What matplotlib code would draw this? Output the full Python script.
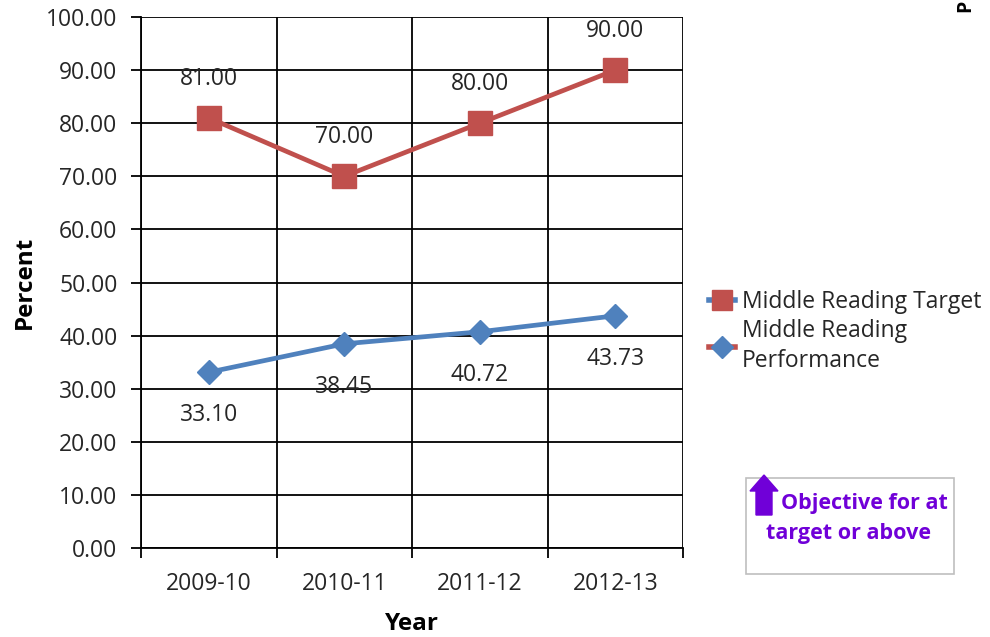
import matplotlib

matplotlib.use("Agg")
import matplotlib.pyplot as plt  # noqa: E402
from matplotlib.lines import Line2D  # noqa: E402
from matplotlib.patches import Polygon, Rectangle  # noqa: E402

YEARS = ["2009-10", "2010-11", "2011-12", "2012-13"]
TARGET = [81.00, 70.00, 80.00, 90.00]
PERFORMANCE = [33.10, 38.45, 40.72, 43.73]
Y_TICKS = [0, 10, 20, 30, 40, 50, 60, 70, 80, 90, 100]

RED = "#C0504D"
BLUE = "#4F81BD"
PURPLE = "#7000D8"
TXT = "#262626"
FS = 16.5

plt.rcParams["font.family"] = ["Open Sans", "DejaVu Sans"]

W, H = 990, 637
fig = plt.figure(figsize=(W / 100, H / 100), dpi=100)
ax = fig.add_axes([141 / W, 1 - 548 / H, (683 - 141) / W, (548 - 17) / H])

x = list(range(len(YEARS)))
ax.plot(x, TARGET, color=RED, lw=3.4, marker="s", ms=17, mfc=RED, mec=RED, zorder=4)
ax.plot(x, PERFORMANCE, color=BLUE, lw=3.4, marker="D", ms=12.5, mfc=BLUE, mec=BLUE, zorder=4)

for xi, v in zip(x, TARGET):
    ax.annotate(f"{v:.2f}", (xi, v), xytext=(0, 28), textcoords="offset points",
                ha="center", va="center", fontsize=FS, color=TXT)
for xi, v in zip(x, PERFORMANCE):
    ax.annotate(f"{v:.2f}", (xi, v), xytext=(0, -31), textcoords="offset points",
                ha="center", va="center", fontsize=FS, color=TXT)

ax.set_xlim(-0.5, len(YEARS) - 0.5)
ax.set_ylim(0, 100)
ax.set_yticks(Y_TICKS)
ax.set_yticklabels([f"{t:.2f}" for t in Y_TICKS], fontsize=FS, color=TXT)
ax.set_xticks(x)
ax.set_xticklabels(YEARS, fontsize=FS, color=TXT)
ax.set_xticks([i - 0.5 for i in range(len(YEARS) + 1)], minor=True)
ax.tick_params(axis="x", which="major", length=0, pad=17)
ax.tick_params(axis="x", which="minor", length=7, width=1.3, direction="out", color="black")
ax.tick_params(axis="y", length=7, width=1.3, direction="out", pad=10, color="black")

ax.grid(True, axis="y", which="major", color="black", lw=1.3)
ax.grid(True, axis="x", which="minor", color="black", lw=1.3)
ax.set_axisbelow(True)
for side in ("top", "right"):
    ax.spines[side].set_visible(False)
for side in ("left", "bottom"):
    ax.spines[side].set_linewidth(1.3)
    ax.spines[side].set_color("black")

# axis titles
fig.text(25 / W, 1 - 282 / H, "Percent", fontsize=17.5, fontweight="bold", rotation=90,
         ha="center", va="center", color="black")
fig.text(412 / W, 1 - 624 / H, "Year", fontsize=17.5, fontweight="bold",
         ha="center", va="center", color="black")

# legend (marker/line colours are swapped in the original)
handles = [
    Line2D([], [], color=BLUE, lw=4, marker="s", ms=15, mfc=RED, mec=RED),
    Line2D([], [], color=RED, lw=4, marker="D", ms=11, mfc=BLUE, mec=BLUE),
]
leg = fig.legend(handles, ["Middle Reading Target", "Middle Reading\nPerformance"],
                 loc="upper left", bbox_to_anchor=(698 / W, 1 - 279 / H), frameon=False,
                 fontsize=FS, handlelength=1.1, handletextpad=0.3, labelspacing=0.2,
                 borderpad=0, labelcolor=TXT)
for t in leg.get_texts():
    t.set_linespacing(1.35)

# objective box
px = fig.dpi_scale_trans
fig.patches.append(Rectangle((746 / 100, (H - 574) / 100), 208 / 100, 96 / 100,
                             transform=px, fill=False, ec="#BFBFBF", lw=1.2))
arrow = [(764, 475), (778, 491), (772, 491), (772, 515), (756, 515), (756, 491), (750, 491)]
fig.patches.append(Polygon([(a / 100, (H - b) / 100) for a, b in arrow], closed=True,
                           transform=px, fc=PURPLE, ec=PURPLE))
fig.text(781 / W, 1 - 503 / H, "Objective for at", fontsize=15.5, fontweight="bold",
         color=PURPLE, ha="left", va="center")
fig.text(766 / W, 1 - 533 / H, "target or above", fontsize=15.5, fontweight="bold",
         color=PURPLE, ha="left", va="center")

fig.text(965 / W, 1 - 12 / H, "P", fontsize=14, fontweight="bold", rotation=90,
         ha="center", va="bottom", color="black")

fig.savefig("out.png", dpi=100)
